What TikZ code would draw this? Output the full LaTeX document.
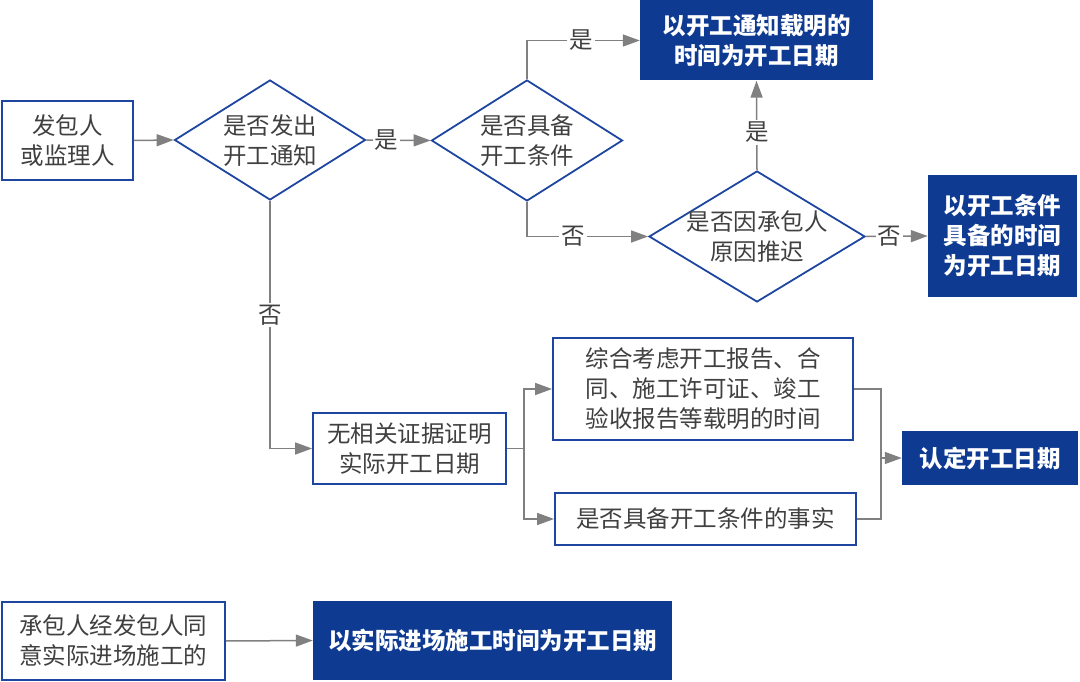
\documentclass[tikz,border=0pt]{standalone}
\usepackage{fontspec}
\setmainfont{Noto Sans CJK SC}
\usetikzlibrary{shapes.geometric,arrows.meta}
\definecolor{boxblue}{RGB}{30,70,160}
\definecolor{fillblue}{RGB}{14,58,146}
\definecolor{txtgray}{RGB}{64,64,64}
\definecolor{linegray}{RGB}{128,128,128}
\begin{document}
\begin{tikzpicture}[x=1pt,y=-1pt,
  every node/.style={font=\fontsize{23.5}{30}\selectfont, text=txtgray, align=center, inner sep=0pt},
  wbox/.style={draw=boxblue, line width=1.8pt, fill=white, minimum width=#1},
  bbox/.style={fill=fillblue, text=white, font=\fontsize{23.5}{30}\selectfont\bfseries, minimum width=#1},
  dia/.style={diamond, draw=boxblue, line width=1.8pt, minimum width=#1},
  conn/.style={draw=linegray, line width=1.5pt, -{Triangle[length=17pt,width=12pt]}},
  plain/.style={draw=linegray, line width=1.5pt},
  lbl/.style={fill=white, inner sep=2pt}
]
\useasboundingbox (0,0) rectangle (1080,682);

% boxes
\node[wbox=131pt, minimum height=79pt] (a) at (67.5,140.5) {发包人\\或监理人};
\node[dia=191pt, minimum height=120pt] (d1) at (270,140) {};
\node (d1t) at (270,141) {是否发出\\开工通知};
\node[dia=191pt, minimum height=121pt] (d2) at (527,140.5) {};
\node (d2t) at (527,141) {是否具备\\开工条件};
\node[bbox=233pt, minimum height=80pt] (t1) at (756.5,40.5) {以开工通知载明的\\时间为开工日期};
\node[dia=216pt, minimum height=131pt] (d3) at (757,236.5) {};
\node (d3t) at (757,237) {是否因承包人\\原因推迟};
\node[bbox=149pt, minimum height=122pt] (t2) at (1002.5,236) {以开工条件\\具备的时间\\为开工日期};
\node[wbox=193pt, minimum height=71pt] (b1) at (409.5,448.5) {无相关证据证明\\实际开工日期};
\node[wbox=300pt, minimum height=102pt] (b2) at (703,389) {综合考虑开工报告、合\\同、施工许可证、竣工\\验收报告等载明的时间};
\node[wbox=301pt, minimum height=52pt] (b3) at (705.5,519) {是否具备开工条件的事实};
\node[bbox=176pt, minimum height=54pt] (t3) at (990,458) {认定开工日期};
\node[wbox=223pt, minimum height=78pt] (b4) at (113.5,641) {承包人经发包人同\\意实际进场施工的};
\node[bbox=359pt, minimum height=79pt] (t4) at (492.5,640.5) {以实际进场施工时间为开工日期};

\coordinate (j1) at (524,448.5);
\coordinate (j2) at (881,458);

% connectors
\draw[conn] (a.east) -- (d1.west);
\draw[conn] (d1.east) -- node[lbl, pos=0.31]{是} (d2.west);
\draw[conn] (d2.north) |- node[lbl, pos=0.74]{是} (t1.west);
\draw[conn] (d2.south) |- node[lbl, pos=0.69]{否} (d3.west);
\draw[conn] (d3.north) -- node[lbl, pos=0.42]{是} (t1.south);
\draw[conn] (d3.east) -- node[lbl, pos=0.38]{否} (t2.west);
\draw[conn] (d1.south) |- node[lbl, pos=0.23]{否} (b1.west);
\draw[plain] (b1.east) -- (j1);
\draw[conn] (j1) |- (b2.west);
\draw[conn] (j1) |- (b3.west);
\draw[plain] (b2.east) -| (j2);
\draw[plain] (b3.east) -| (j2);
\draw[conn] (j2) -- (t3.west);
\draw[conn] (b4.east) -- (t4.west);
\end{tikzpicture}
\end{document}
